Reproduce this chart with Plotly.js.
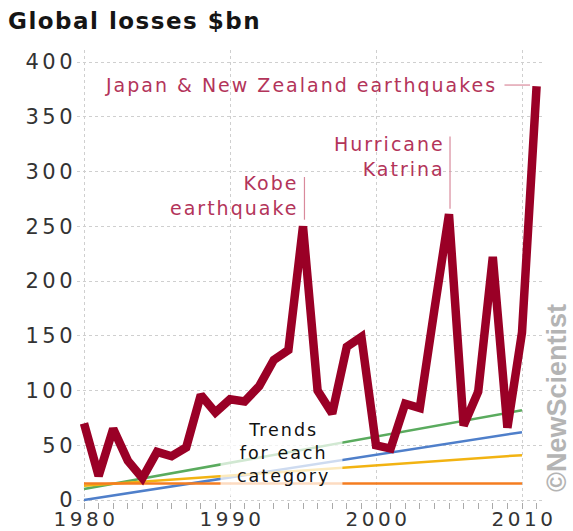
<!DOCTYPE html>
<html>
<head>
<meta charset="utf-8">
<script src="https://cdn.plot.ly/plotly-3.0.1.min.js"></script>
<style>
html,body{margin:0;padding:0;background:#fff;}
#chart{width:573px;height:531px;}
.xtick text{letter-spacing:3.5px;}
.ytick text{letter-spacing:3.5px;}
.gtitle{letter-spacing:1.5px;}
</style>
</head>
<body>
<div id="chart"></div>
<script>
// ---- data ----
const years = [1980,1981,1982,1983,1984,1985,1986,1987,1988,1989,1990,1991,1992,1993,1994,1995,1996,1997,1998,1999,2000,2001,2002,2003,2004,2005,2006,2007,2008,2009,2010,2011];
const losses = [70,22,65,36,20,44,40,48,96,80,92,90,104,128,137,250,100,79,140,149,50,47,88,84,174,261,68,99,222,66,153,378];

const trendYears = [1980, 2010];
const trendGreen = [10, 82];
const trendBlue = [0, 62];
const trendYellow = [13, 41];
const trendOrange = [15, 15];

const majorTicks = [1980, 1990, 2000, 2010];
const yTicks = [0, 50, 100, 150, 200, 250, 300, 350, 400];

const titleText = 'Global losses $bn';
const kobeLines = ['Kobe', 'earthquake'];
const katrinaLines = ['Hurricane', 'Katrina'];
const japanLines = ['Japan & New Zealand earthquakes'];
const trendsLines = ['Trends', 'for each', 'category'];
const creditText = '©NewScientist';

// ---- styles ----
const RED = '#9a0026';
const LABEL = '#b3345a';
const LEADER = '#d98a9c';
const FONT = 'DejaVu Sans, sans-serif';

function spaced(lines, ls) {
  return lines.map(function (l) { return '<span style="letter-spacing:' + ls + 'px">' + l + '</span>'; }).join('<br>');
}

function trend(y, color) {
  return {x: trendYears, y: y, type: 'scatter', mode: 'lines',
          line: {color: color, width: 2.5}, hoverinfo: 'skip', showlegend: false};
}

const traces = [
  trend(trendGreen, '#5aab5e'),
  trend(trendBlue, '#4f7fca'),
  trend(trendYellow, '#f2b312'),
  trend(trendOrange, '#f47d20'),
  {x: years, y: losses, type: 'scatter', mode: 'lines',
   line: {color: RED, width: 8.5}, showlegend: false}
];

const layout = {
  width: 573, height: 531,
  margin: {l: 77, r: 31, t: 50, b: 29},
  paper_bgcolor: '#fff', plot_bgcolor: '#fff',
  showlegend: false,
  title: {text: '<b>' + titleText + '</b>', x: 8/573, xanchor: 'left', xref: 'container',
          y: 1 - 21/531, yanchor: 'middle', yref: 'container',
          font: {family: FONT, size: 23, color: '#151515'}},
  xaxis: {
    range: [1979.52, 2011.37],
    tickmode: 'array', tickvals: majorTicks, ticktext: majorTicks.map(String),
    ticks: 'outside', ticklen: 6, tickcolor: '#aaa', tickwidth: 1,
    ticklabelstandoff: -7, ticklabelshift: 2,
    showgrid: true, gridcolor: '#cfcfcf', griddash: 'dot', gridwidth: 1,
    zeroline: false, showline: false,
    tickfont: {family: FONT, size: 20, color: '#333'},
    minor: {dtick: 1, tick0: 1980, ticks: 'outside', ticklen: 6, tickcolor: '#aaa', tickwidth: 1, showgrid: false},
    fixedrange: true
  },
  yaxis: {
    range: [-1.8, 411],
    tickmode: 'array', tickvals: yTicks, ticktext: yTicks.map(String),
    ticks: '', showgrid: true, gridcolor: '#cfcfcf', griddash: 'dot', gridwidth: 1,
    zeroline: false, showline: false,
    tickfont: {family: FONT, size: 21, color: '#333'},
    fixedrange: true
  },
  shapes: [
    // fade behind "Trends" label
    {type: 'rect', xref: 'x', yref: 'y', x0: 1989.35, x1: 1997.7, y0: 4, y1: 60,
     fillcolor: 'rgba(255,255,255,0.72)', line: {width: 0}, layer: 'above'},
    // leader lines
    {type: 'line', xref: 'x', yref: 'y', x0: 1995.1, x1: 1995.1, y0: 295, y1: 256,
     line: {color: LEADER, width: 1.2}},
    {type: 'line', xref: 'x', yref: 'y', x0: 2005.07, x1: 2005.07, y0: 332, y1: 266,
     line: {color: LEADER, width: 1.2}},
    {type: 'line', xref: 'x', yref: 'y', x0: 2008.8, x1: 2010.55, y0: 379, y1: 379,
     line: {color: LEADER, width: 1.2}}
  ],
  annotations: [
    {text: spaced(kobeLines, 2), xref: 'x', yref: 'y', x: 1994.8, y: 278, xanchor: 'right', yanchor: 'middle',
     align: 'right', showarrow: false, font: {family: FONT, size: 19, color: LABEL}},
    {text: spaced(katrinaLines, 2), xref: 'x', yref: 'y', x: 2004.83, y: 314, xanchor: 'right', yanchor: 'middle',
     align: 'right', showarrow: false, font: {family: FONT, size: 19, color: LABEL}},
    {text: spaced(japanLines, 2), xref: 'x', yref: 'y', x: 2008.4, y: 379, xanchor: 'right', yanchor: 'middle',
     align: 'right', showarrow: false, font: {family: FONT, size: 19, color: LABEL}},
    {text: spaced(trendsLines, 2), xref: 'x', yref: 'y', x: 1993.65, y: 43, xanchor: 'center', yanchor: 'middle',
     align: 'center', showarrow: false, font: {family: FONT, size: 17.5, color: '#111'}},
    {text: '<b>' + creditText + '</b>', xref: 'paper', yref: 'paper', x: (557 - 77) / 465, y: (531 - 29 - 398) / 452,
     xanchor: 'center', yanchor: 'middle', textangle: -90, showarrow: false,
     font: {family: 'Liberation Sans Narrow, Liberation Sans, sans-serif', size: 27, color: '#b4b4b4'}}
  ]
};

Plotly.newPlot('chart', traces, layout, {displayModeBar: false, staticPlot: true});
</script>
</body>
</html>
